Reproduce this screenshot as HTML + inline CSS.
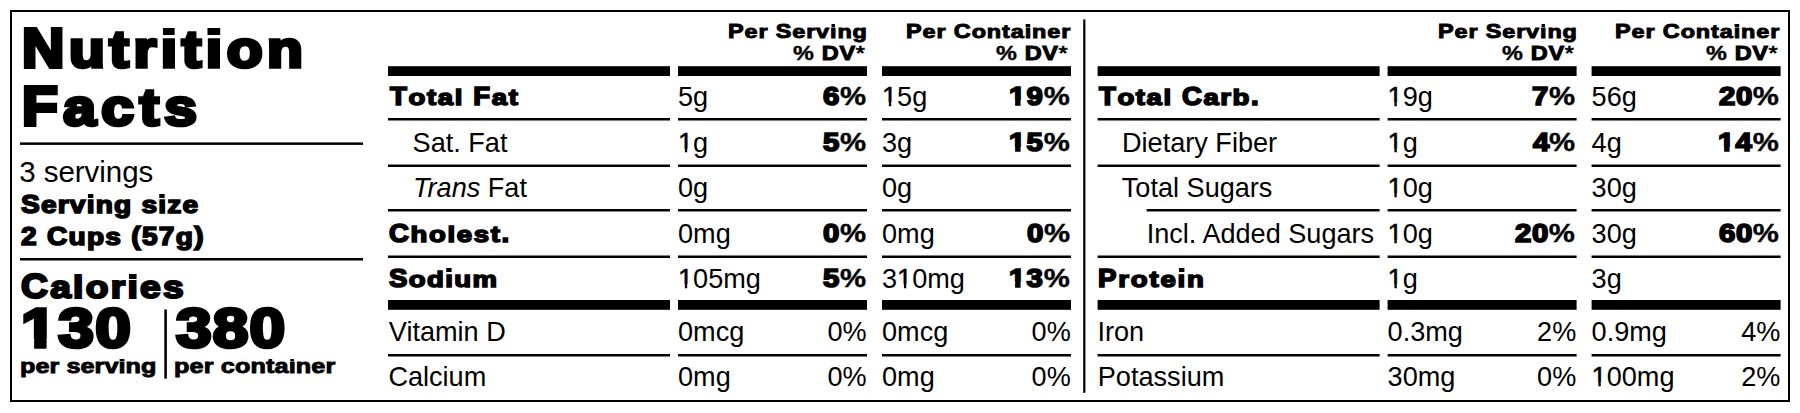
<!DOCTYPE html><html><head><meta charset="utf-8"><title>Nutrition Facts</title><style>
html,body{margin:0;padding:0;background:#fff}
body{width:1800px;height:413px;position:relative;overflow:hidden;font-family:"Liberation Sans",sans-serif;color:#000}
.t{position:absolute;white-space:pre;line-height:1}
.b{position:absolute;background:#000}
</style></head><body>
<svg style='position:absolute;left:0;top:0' width='1800' height='413' viewBox='0 0 1800 413'><rect x='10' y='10' width='1780' height='2'/><rect x='10' y='400' width='1780' height='2'/><rect x='10' y='10' width='2' height='392'/><rect x='1788' y='10' width='2' height='392'/><rect x='20' y='142.4' width='343' height='2.5'/><rect x='20' y='258' width='343' height='2.5'/><rect x='164.3' y='309.5' width='2.6' height='69.1'/><rect x='1083.2' y='19.4' width='2.2' height='373.4'/><rect x='388' y='66.2' width='282' height='9.8'/><rect x='388' y='300' width='282' height='9.8'/><rect x='388' y='118' width='282' height='2.5'/><rect x='388' y='164.5' width='282' height='2.5'/><rect x='388' y='209' width='282' height='2.5'/><rect x='388' y='255.5' width='282' height='2.5'/><rect x='388' y='354' width='282' height='2.5'/><rect x='678' y='66.2' width='189' height='9.8'/><rect x='678' y='300' width='189' height='9.8'/><rect x='678' y='118' width='189' height='2.5'/><rect x='678' y='164.5' width='189' height='2.5'/><rect x='678' y='209' width='189' height='2.5'/><rect x='678' y='255.5' width='189' height='2.5'/><rect x='678' y='354' width='189' height='2.5'/><rect x='882' y='66.2' width='189' height='9.8'/><rect x='882' y='300' width='189' height='9.8'/><rect x='882' y='118' width='189' height='2.5'/><rect x='882' y='164.5' width='189' height='2.5'/><rect x='882' y='209' width='189' height='2.5'/><rect x='882' y='255.5' width='189' height='2.5'/><rect x='882' y='354' width='189' height='2.5'/><rect x='1097.6' y='66.2' width='282.0' height='9.8'/><rect x='1097.6' y='300' width='282.0' height='9.8'/><rect x='1097.6' y='118' width='282.0' height='2.5'/><rect x='1097.6' y='164.5' width='282.0' height='2.5'/><rect x='1146.6' y='209' width='233.0' height='2.5'/><rect x='1097.6' y='255.5' width='282.0' height='2.5'/><rect x='1097.6' y='354' width='282.0' height='2.5'/><rect x='1387.6' y='66.2' width='189.0' height='9.8'/><rect x='1387.6' y='300' width='189.0' height='9.8'/><rect x='1387.6' y='118' width='189.0' height='2.5'/><rect x='1387.6' y='164.5' width='189.0' height='2.5'/><rect x='1387.6' y='209' width='189.0' height='2.5'/><rect x='1387.6' y='255.5' width='189.0' height='2.5'/><rect x='1387.6' y='354' width='189.0' height='2.5'/><rect x='1591.6' y='66.2' width='189.0' height='9.8'/><rect x='1591.6' y='300' width='189.0' height='9.8'/><rect x='1591.6' y='118' width='189.0' height='2.5'/><rect x='1591.6' y='164.5' width='189.0' height='2.5'/><rect x='1591.6' y='209' width='189.0' height='2.5'/><rect x='1591.6' y='255.5' width='189.0' height='2.5'/><rect x='1591.6' y='354' width='189.0' height='2.5'/></svg>
<div class='t' style='left:22.00px;top:21.25px;font-weight:700;font-size:55.4px;-webkit-text-stroke:3.9px #000;letter-spacing:4.281px;transform:scaleX(1.06);transform-origin:0 0;'>N<span style='display:inline-block;transform:scaleY(0.92);transform-origin:0 46.00px'>utr</span><span style='display:inline-block;position:relative'><span style='display:inline-block;transform:scaleY(0.92);transform-origin:0 46.00px'>ı</span><span style='position:absolute;left:1.92px;top:6.35px;width:11.50px;height:7.77px;background:#000'></span></span><span style='display:inline-block;transform:scaleY(0.92);transform-origin:0 46.00px'>t</span><span style='display:inline-block;position:relative'><span style='display:inline-block;transform:scaleY(0.92);transform-origin:0 46.00px'>ı</span><span style='position:absolute;left:1.92px;top:6.35px;width:11.50px;height:7.77px;background:#000'></span></span><span style='display:inline-block;transform:scaleY(0.92);transform-origin:0 46.00px'>on</span></div>
<div class='t' style='left:22.00px;top:79.35px;font-weight:700;font-size:55.4px;-webkit-text-stroke:3.9px #000;letter-spacing:5.094px;transform:scaleX(1.06);transform-origin:0 0;'>F<span style='display:inline-block;transform:scaleY(0.92);transform-origin:0 46.00px'>acts</span></div>
<div class='t' style='left:19.30px;top:156.60px;font-weight:400;font-size:29.5px;letter-spacing:-0.056px;'>3 servings</div>
<div class='t' style='left:20.60px;top:190.95px;font-weight:700;font-size:26.0px;-webkit-text-stroke:1.7px #000;letter-spacing:1.111px;transform:scaleX(1.08);transform-origin:0 0;'>S<span style='display:inline-block;transform:scaleY(0.9);transform-origin:0 22.00px'>erv</span><span style='display:inline-block;position:relative'><span style='display:inline-block;transform:scaleY(0.9);transform-origin:0 22.00px'>ı</span><span style='position:absolute;left:0.97px;top:3.46px;width:5.27px;height:3.95px;background:#000'></span></span><span style='display:inline-block;transform:scaleY(0.9);transform-origin:0 22.00px'>ng</span> <span style='display:inline-block;transform:scaleY(0.9);transform-origin:0 22.00px'>s</span><span style='display:inline-block;position:relative'><span style='display:inline-block;transform:scaleY(0.9);transform-origin:0 22.00px'>ı</span><span style='position:absolute;left:0.97px;top:3.46px;width:5.27px;height:3.95px;background:#000'></span></span><span style='display:inline-block;transform:scaleY(0.9);transform-origin:0 22.00px'>ze</span></div>
<div class='t' style='left:20.60px;top:222.65px;font-weight:700;font-size:26.0px;-webkit-text-stroke:1.7px #000;letter-spacing:1.178px;transform:scaleX(1.08);transform-origin:0 0;'>2 C<span style='display:inline-block;transform:scaleY(0.9);transform-origin:0 22.00px'>ups</span> (57<span style='display:inline-block;transform:scaleY(0.9);transform-origin:0 22.00px'>g</span>)</div>
<div class='t' style='left:21.00px;top:269.45px;font-weight:700;font-size:34.4px;-webkit-text-stroke:2.3px #000;letter-spacing:2.130px;transform:scaleX(1.08);transform-origin:0 0;'>C<span style='display:inline-block;transform:scaleY(0.9);transform-origin:0 29.00px'>alor</span><span style='display:inline-block;position:relative'><span style='display:inline-block;transform:scaleY(0.9);transform-origin:0 29.00px'>ı</span><span style='position:absolute;left:1.25px;top:4.44px;width:7.02px;height:5.22px;background:#000'></span></span><span style='display:inline-block;transform:scaleY(0.9);transform-origin:0 29.00px'>es</span></div>
<div class='t' style='left:21.20px;top:301.30px;font-weight:700;font-size:55.2px;-webkit-text-stroke:3.6px #000;letter-spacing:1.336px;transform:scaleX(1.16);transform-origin:0 0;'><span style='display:inline-block;clip-path:polygon(-20px -20px,calc(100% + 20px) -20px,calc(100% + 20px) 37.57px,21.96px 37.57px,21.96px calc(100% + 20px),11.38px calc(100% + 20px),11.38px 37.57px,-20px 37.57px)'>1</span>30</div>
<div class='t' style='left:175.80px;top:301.20px;font-weight:700;font-size:55.2px;-webkit-text-stroke:3.6px #000;letter-spacing:1.034px;transform:scaleX(1.16);transform-origin:0 0;'>380</div>
<div class='t' style='left:19.60px;top:355.25px;font-weight:700;font-size:21.0px;-webkit-text-stroke:0.9px #000;letter-spacing:0.042px;transform:scaleX(1.2);transform-origin:0 0;'>per serv<span style='display:inline-block;position:relative'><span style='display:inline-block;transform:scaleY(1);transform-origin:0 18.00px'>ı</span><span style='position:absolute;left:1.02px;top:3.26px;width:3.78px;height:2.05px;background:#000'></span></span>ng</div>
<div class='t' style='left:173.80px;top:355.25px;font-weight:700;font-size:21.0px;-webkit-text-stroke:0.9px #000;letter-spacing:0.111px;transform:scaleX(1.2);transform-origin:0 0;'>per conta<span style='display:inline-block;position:relative'><span style='display:inline-block;transform:scaleY(1);transform-origin:0 18.00px'>ı</span><span style='position:absolute;left:1.02px;top:3.26px;width:3.78px;height:2.05px;background:#000'></span></span>ner</div>
<div class='t' style='left:728.20px;top:21.30px;font-weight:700;font-size:20.4px;-webkit-text-stroke:1.0px #000;letter-spacing:0.739px;transform:scaleX(1.15);transform-origin:0 0;'>P<span style='display:inline-block;transform:scaleY(0.9);transform-origin:0 17.00px'>er</span> S<span style='display:inline-block;transform:scaleY(0.9);transform-origin:0 17.00px'>erv</span><span style='display:inline-block;position:relative'><span style='display:inline-block;transform:scaleY(0.9);transform-origin:0 17.00px'>ı</span><span style='position:absolute;left:0.92px;top:2.62px;width:3.80px;height:3.11px;background:#000'></span></span><span style='display:inline-block;transform:scaleY(0.9);transform-origin:0 17.00px'>ng</span></div>
<div class='t' style='left:792.60px;top:43.40px;font-weight:700;font-size:20.4px;-webkit-text-stroke:1.0px #000;letter-spacing:0.630px;transform:scaleX(1.15);transform-origin:0 0;'><span style='-webkit-text-stroke-width:0.4px'>%</span> DV<span style='font-weight:400;-webkit-text-stroke-width:0.7px'>*</span></div>
<div class='t' style='left:905.50px;top:21.30px;font-weight:700;font-size:20.4px;-webkit-text-stroke:1.0px #000;letter-spacing:0.761px;transform:scaleX(1.15);transform-origin:0 0;'>P<span style='display:inline-block;transform:scaleY(0.9);transform-origin:0 17.00px'>er</span> C<span style='display:inline-block;transform:scaleY(0.9);transform-origin:0 17.00px'>onta</span><span style='display:inline-block;position:relative'><span style='display:inline-block;transform:scaleY(0.9);transform-origin:0 17.00px'>ı</span><span style='position:absolute;left:0.92px;top:2.62px;width:3.80px;height:3.11px;background:#000'></span></span><span style='display:inline-block;transform:scaleY(0.9);transform-origin:0 17.00px'>ner</span></div>
<div class='t' style='left:996.40px;top:43.40px;font-weight:700;font-size:20.4px;-webkit-text-stroke:1.0px #000;letter-spacing:0.543px;transform:scaleX(1.15);transform-origin:0 0;'><span style='-webkit-text-stroke-width:0.4px'>%</span> DV<span style='font-weight:400;-webkit-text-stroke-width:0.7px'>*</span></div>
<div class='t' style='left:1437.80px;top:21.30px;font-weight:700;font-size:20.4px;-webkit-text-stroke:1.0px #000;letter-spacing:0.739px;transform:scaleX(1.15);transform-origin:0 0;'>P<span style='display:inline-block;transform:scaleY(0.9);transform-origin:0 17.00px'>er</span> S<span style='display:inline-block;transform:scaleY(0.9);transform-origin:0 17.00px'>erv</span><span style='display:inline-block;position:relative'><span style='display:inline-block;transform:scaleY(0.9);transform-origin:0 17.00px'>ı</span><span style='position:absolute;left:0.92px;top:2.62px;width:3.80px;height:3.11px;background:#000'></span></span><span style='display:inline-block;transform:scaleY(0.9);transform-origin:0 17.00px'>ng</span></div>
<div class='t' style='left:1502.20px;top:43.40px;font-weight:700;font-size:20.4px;-webkit-text-stroke:1.0px #000;letter-spacing:0.630px;transform:scaleX(1.15);transform-origin:0 0;'><span style='-webkit-text-stroke-width:0.4px'>%</span> DV<span style='font-weight:400;-webkit-text-stroke-width:0.7px'>*</span></div>
<div class='t' style='left:1615.10px;top:21.30px;font-weight:700;font-size:20.4px;-webkit-text-stroke:1.0px #000;letter-spacing:0.761px;transform:scaleX(1.15);transform-origin:0 0;'>P<span style='display:inline-block;transform:scaleY(0.9);transform-origin:0 17.00px'>er</span> C<span style='display:inline-block;transform:scaleY(0.9);transform-origin:0 17.00px'>onta</span><span style='display:inline-block;position:relative'><span style='display:inline-block;transform:scaleY(0.9);transform-origin:0 17.00px'>ı</span><span style='position:absolute;left:0.92px;top:2.62px;width:3.80px;height:3.11px;background:#000'></span></span><span style='display:inline-block;transform:scaleY(0.9);transform-origin:0 17.00px'>ner</span></div>
<div class='t' style='left:1706.00px;top:43.40px;font-weight:700;font-size:20.4px;-webkit-text-stroke:1.0px #000;letter-spacing:0.543px;transform:scaleX(1.15);transform-origin:0 0;'><span style='-webkit-text-stroke-width:0.4px'>%</span> DV<span style='font-weight:400;-webkit-text-stroke-width:0.7px'>*</span></div>
<div class='t' style='left:389.70px;top:83.75px;font-weight:700;font-size:25.5px;-webkit-text-stroke:1.7px #000;letter-spacing:1.528px;transform:scaleX(1.08);transform-origin:0 0;'>T<span style='display:inline-block;transform:scaleY(0.9);transform-origin:0 21.00px'>otal</span> F<span style='display:inline-block;transform:scaleY(0.9);transform-origin:0 21.00px'>at</span></div>
<div class='t' style='left:678.00px;top:82.60px;font-weight:400;font-size:27.1px;'>5g</div>
<div class='t' style='left:882.00px;top:82.60px;font-weight:400;font-size:27.1px;'><span style='display:inline-block;-webkit-text-stroke:0.5px #000;clip-path:polygon(-20px -20px,calc(100% + 20px) -20px,calc(100% + 20px) 19.73px,9.16px 19.73px,9.16px calc(100% + 20px),6.86px calc(100% + 20px),6.86px 19.73px,-20px 19.73px)'>1</span>5g</div>
<div class='t' style='left:822.50px;top:83.75px;font-weight:700;font-size:25.5px;-webkit-text-stroke:1.7px #000;letter-spacing:0.522px;transform:scaleX(1.15);transform-origin:0 0;'>6<span style='-webkit-text-stroke-width:0.4px'>%</span></div>
<div class='t' style='left:1008.60px;top:83.75px;font-weight:700;font-size:25.5px;-webkit-text-stroke:1.7px #000;letter-spacing:0.957px;transform:scaleX(1.15);transform-origin:0 0;'><span style='display:inline-block;clip-path:polygon(-20px -20px,calc(100% + 20px) -20px,calc(100% + 20px) 16.55px,10.00px 16.55px,10.00px calc(100% + 20px),5.40px calc(100% + 20px),5.40px 16.55px,-20px 16.55px)'>1</span>9<span style='-webkit-text-stroke-width:0.4px'>%</span></div>
<div class='t' style='left:412.60px;top:129.20px;font-weight:400;font-size:27.1px;'>Sat. Fat</div>
<div class='t' style='left:678.00px;top:129.20px;font-weight:400;font-size:27.1px;'><span style='display:inline-block;-webkit-text-stroke:0.5px #000;clip-path:polygon(-20px -20px,calc(100% + 20px) -20px,calc(100% + 20px) 19.73px,9.16px 19.73px,9.16px calc(100% + 20px),6.86px calc(100% + 20px),6.86px 19.73px,-20px 19.73px)'>1</span>g</div>
<div class='t' style='left:882.00px;top:129.20px;font-weight:400;font-size:27.1px;'>3g</div>
<div class='t' style='left:822.50px;top:130.35px;font-weight:700;font-size:25.5px;-webkit-text-stroke:1.7px #000;letter-spacing:0.522px;transform:scaleX(1.15);transform-origin:0 0;'>5<span style='-webkit-text-stroke-width:0.4px'>%</span></div>
<div class='t' style='left:1008.60px;top:130.35px;font-weight:700;font-size:25.5px;-webkit-text-stroke:1.7px #000;letter-spacing:0.957px;transform:scaleX(1.15);transform-origin:0 0;'><span style='display:inline-block;clip-path:polygon(-20px -20px,calc(100% + 20px) -20px,calc(100% + 20px) 16.55px,10.00px 16.55px,10.00px calc(100% + 20px),5.40px calc(100% + 20px),5.40px 16.55px,-20px 16.55px)'>1</span>5<span style='-webkit-text-stroke-width:0.4px'>%</span></div>
<div class='t' style='left:413.00px;top:173.80px;font-weight:400;font-size:27.1px;'><i>Trans</i> Fat</div>
<div class='t' style='left:678.00px;top:173.80px;font-weight:400;font-size:27.1px;'>0g</div>
<div class='t' style='left:882.00px;top:173.80px;font-weight:400;font-size:27.1px;'>0g</div>
<div class='t' style='left:389.10px;top:221.15px;font-weight:700;font-size:25.5px;-webkit-text-stroke:1.7px #000;letter-spacing:1.521px;transform:scaleX(1.08);transform-origin:0 0;'>C<span style='display:inline-block;transform:scaleY(0.9);transform-origin:0 21.00px'>holest</span>.</div>
<div class='t' style='left:678.00px;top:220.00px;font-weight:400;font-size:27.1px;'>0mg</div>
<div class='t' style='left:882.00px;top:220.00px;font-weight:400;font-size:27.1px;'>0mg</div>
<div class='t' style='left:822.50px;top:221.15px;font-weight:700;font-size:25.5px;-webkit-text-stroke:1.7px #000;letter-spacing:0.522px;transform:scaleX(1.15);transform-origin:0 0;'>0<span style='-webkit-text-stroke-width:0.4px'>%</span></div>
<div class='t' style='left:1026.60px;top:221.15px;font-weight:700;font-size:25.5px;-webkit-text-stroke:1.7px #000;letter-spacing:0.522px;transform:scaleX(1.15);transform-origin:0 0;'>0<span style='-webkit-text-stroke-width:0.4px'>%</span></div>
<div class='t' style='left:389.10px;top:265.65px;font-weight:700;font-size:25.5px;-webkit-text-stroke:1.7px #000;letter-spacing:1.315px;transform:scaleX(1.08);transform-origin:0 0;'>S<span style='display:inline-block;transform:scaleY(0.9);transform-origin:0 21.00px'>od</span><span style='display:inline-block;position:relative'><span style='display:inline-block;transform:scaleY(0.9);transform-origin:0 21.00px'>ı</span><span style='position:absolute;left:0.93px;top:2.80px;width:5.20px;height:3.87px;background:#000'></span></span><span style='display:inline-block;transform:scaleY(0.9);transform-origin:0 21.00px'>um</span></div>
<div class='t' style='left:678.00px;top:264.50px;font-weight:400;font-size:27.1px;'><span style='display:inline-block;-webkit-text-stroke:0.5px #000;clip-path:polygon(-20px -20px,calc(100% + 20px) -20px,calc(100% + 20px) 19.73px,9.16px 19.73px,9.16px calc(100% + 20px),6.86px calc(100% + 20px),6.86px 19.73px,-20px 19.73px)'>1</span>05mg</div>
<div class='t' style='left:882.00px;top:264.50px;font-weight:400;font-size:27.1px;'>3<span style='display:inline-block;-webkit-text-stroke:0.5px #000;clip-path:polygon(-20px -20px,calc(100% + 20px) -20px,calc(100% + 20px) 19.73px,9.16px 19.73px,9.16px calc(100% + 20px),6.86px calc(100% + 20px),6.86px 19.73px,-20px 19.73px)'>1</span>0mg</div>
<div class='t' style='left:822.50px;top:265.65px;font-weight:700;font-size:25.5px;-webkit-text-stroke:1.7px #000;letter-spacing:0.522px;transform:scaleX(1.15);transform-origin:0 0;'>5<span style='-webkit-text-stroke-width:0.4px'>%</span></div>
<div class='t' style='left:1008.60px;top:265.65px;font-weight:700;font-size:25.5px;-webkit-text-stroke:1.7px #000;letter-spacing:0.957px;transform:scaleX(1.15);transform-origin:0 0;'><span style='display:inline-block;clip-path:polygon(-20px -20px,calc(100% + 20px) -20px,calc(100% + 20px) 16.55px,10.00px 16.55px,10.00px calc(100% + 20px),5.40px calc(100% + 20px),5.40px 16.55px,-20px 16.55px)'>1</span>3<span style='-webkit-text-stroke-width:0.4px'>%</span></div>
<div class='t' style='left:388.80px;top:318.40px;font-weight:400;font-size:27.1px;'>Vitamin D</div>
<div class='t' style='left:678.00px;top:318.40px;font-weight:400;font-size:27.1px;'>0mcg</div>
<div class='t' style='left:882.00px;top:318.40px;font-weight:400;font-size:27.1px;'>0mcg</div>
<div class='t' style='left:827.50px;top:318.40px;font-weight:400;font-size:27.1px;'>0%</div>
<div class='t' style='left:1031.60px;top:318.40px;font-weight:400;font-size:27.1px;'>0%</div>
<div class='t' style='left:388.40px;top:362.50px;font-weight:400;font-size:27.1px;'>Calcium</div>
<div class='t' style='left:678.00px;top:362.50px;font-weight:400;font-size:27.1px;'>0mg</div>
<div class='t' style='left:882.00px;top:362.50px;font-weight:400;font-size:27.1px;'>0mg</div>
<div class='t' style='left:827.50px;top:362.50px;font-weight:400;font-size:27.1px;'>0%</div>
<div class='t' style='left:1031.60px;top:362.50px;font-weight:400;font-size:27.1px;'>0%</div>
<div class='t' style='left:1099.20px;top:83.75px;font-weight:700;font-size:25.5px;-webkit-text-stroke:1.7px #000;letter-spacing:1.463px;transform:scaleX(1.08);transform-origin:0 0;'>T<span style='display:inline-block;transform:scaleY(0.9);transform-origin:0 21.00px'>otal</span> C<span style='display:inline-block;transform:scaleY(0.9);transform-origin:0 21.00px'>arb</span>.</div>
<div class='t' style='left:1387.60px;top:82.60px;font-weight:400;font-size:27.1px;'><span style='display:inline-block;-webkit-text-stroke:0.5px #000;clip-path:polygon(-20px -20px,calc(100% + 20px) -20px,calc(100% + 20px) 19.73px,9.16px 19.73px,9.16px calc(100% + 20px),6.86px calc(100% + 20px),6.86px 19.73px,-20px 19.73px)'>1</span>9g</div>
<div class='t' style='left:1591.60px;top:82.60px;font-weight:400;font-size:27.1px;'>56g</div>
<div class='t' style='left:1532.10px;top:83.75px;font-weight:700;font-size:25.5px;-webkit-text-stroke:1.7px #000;letter-spacing:0.522px;transform:scaleX(1.15);transform-origin:0 0;'>7<span style='-webkit-text-stroke-width:0.4px'>%</span></div>
<div class='t' style='left:1719.20px;top:83.75px;font-weight:700;font-size:25.5px;-webkit-text-stroke:1.7px #000;letter-spacing:0.522px;transform:scaleX(1.15);transform-origin:0 0;'>20<span style='-webkit-text-stroke-width:0.4px'>%</span></div>
<div class='t' style='left:1122.00px;top:129.20px;font-weight:400;font-size:27.1px;'>Dietary Fiber</div>
<div class='t' style='left:1387.60px;top:129.20px;font-weight:400;font-size:27.1px;'><span style='display:inline-block;-webkit-text-stroke:0.5px #000;clip-path:polygon(-20px -20px,calc(100% + 20px) -20px,calc(100% + 20px) 19.73px,9.16px 19.73px,9.16px calc(100% + 20px),6.86px calc(100% + 20px),6.86px 19.73px,-20px 19.73px)'>1</span>g</div>
<div class='t' style='left:1591.60px;top:129.20px;font-weight:400;font-size:27.1px;'>4g</div>
<div class='t' style='left:1533.10px;top:130.35px;font-weight:700;font-size:25.5px;-webkit-text-stroke:1.7px #000;letter-spacing:-0.348px;transform:scaleX(1.15);transform-origin:0 0;'>4<span style='-webkit-text-stroke-width:0.4px'>%</span></div>
<div class='t' style='left:1718.20px;top:130.35px;font-weight:700;font-size:25.5px;-webkit-text-stroke:1.7px #000;letter-spacing:0.957px;transform:scaleX(1.15);transform-origin:0 0;'><span style='display:inline-block;clip-path:polygon(-20px -20px,calc(100% + 20px) -20px,calc(100% + 20px) 16.55px,10.00px 16.55px,10.00px calc(100% + 20px),5.40px calc(100% + 20px),5.40px 16.55px,-20px 16.55px)'>1</span>4<span style='-webkit-text-stroke-width:0.4px'>%</span></div>
<div class='t' style='left:1121.80px;top:173.80px;font-weight:400;font-size:27.1px;'>Total Sugars</div>
<div class='t' style='left:1387.60px;top:173.80px;font-weight:400;font-size:27.1px;'><span style='display:inline-block;-webkit-text-stroke:0.5px #000;clip-path:polygon(-20px -20px,calc(100% + 20px) -20px,calc(100% + 20px) 19.73px,9.16px 19.73px,9.16px calc(100% + 20px),6.86px calc(100% + 20px),6.86px 19.73px,-20px 19.73px)'>1</span>0g</div>
<div class='t' style='left:1591.60px;top:173.80px;font-weight:400;font-size:27.1px;'>30g</div>
<div class='t' style='left:1146.70px;top:220.00px;font-weight:400;font-size:27.1px;'>Incl. Added Sugars</div>
<div class='t' style='left:1387.60px;top:220.00px;font-weight:400;font-size:27.1px;'><span style='display:inline-block;-webkit-text-stroke:0.5px #000;clip-path:polygon(-20px -20px,calc(100% + 20px) -20px,calc(100% + 20px) 19.73px,9.16px 19.73px,9.16px calc(100% + 20px),6.86px calc(100% + 20px),6.86px 19.73px,-20px 19.73px)'>1</span>0g</div>
<div class='t' style='left:1591.60px;top:220.00px;font-weight:400;font-size:27.1px;'>30g</div>
<div class='t' style='left:1515.10px;top:221.15px;font-weight:700;font-size:25.5px;-webkit-text-stroke:1.7px #000;letter-spacing:0.522px;transform:scaleX(1.15);transform-origin:0 0;'>20<span style='-webkit-text-stroke-width:0.4px'>%</span></div>
<div class='t' style='left:1719.20px;top:221.15px;font-weight:700;font-size:25.5px;-webkit-text-stroke:1.7px #000;letter-spacing:0.522px;transform:scaleX(1.15);transform-origin:0 0;'>60<span style='-webkit-text-stroke-width:0.4px'>%</span></div>
<div class='t' style='left:1098.25px;top:265.65px;font-weight:700;font-size:25.5px;-webkit-text-stroke:1.7px #000;letter-spacing:1.698px;transform:scaleX(1.08);transform-origin:0 0;'>P<span style='display:inline-block;transform:scaleY(0.9);transform-origin:0 21.00px'>rote</span><span style='display:inline-block;position:relative'><span style='display:inline-block;transform:scaleY(0.9);transform-origin:0 21.00px'>ı</span><span style='position:absolute;left:0.93px;top:2.80px;width:5.20px;height:3.87px;background:#000'></span></span><span style='display:inline-block;transform:scaleY(0.9);transform-origin:0 21.00px'>n</span></div>
<div class='t' style='left:1387.60px;top:264.50px;font-weight:400;font-size:27.1px;'><span style='display:inline-block;-webkit-text-stroke:0.5px #000;clip-path:polygon(-20px -20px,calc(100% + 20px) -20px,calc(100% + 20px) 19.73px,9.16px 19.73px,9.16px calc(100% + 20px),6.86px calc(100% + 20px),6.86px 19.73px,-20px 19.73px)'>1</span>g</div>
<div class='t' style='left:1591.60px;top:264.50px;font-weight:400;font-size:27.1px;'>3g</div>
<div class='t' style='left:1097.40px;top:318.40px;font-weight:400;font-size:27.1px;'>Iron</div>
<div class='t' style='left:1387.60px;top:318.40px;font-weight:400;font-size:27.1px;'>0.3mg</div>
<div class='t' style='left:1591.60px;top:318.40px;font-weight:400;font-size:27.1px;'>0.9mg</div>
<div class='t' style='left:1537.10px;top:318.40px;font-weight:400;font-size:27.1px;'>2%</div>
<div class='t' style='left:1741.20px;top:318.40px;font-weight:400;font-size:27.1px;'>4%</div>
<div class='t' style='left:1097.80px;top:362.50px;font-weight:400;font-size:27.1px;'>Potassium</div>
<div class='t' style='left:1387.60px;top:362.50px;font-weight:400;font-size:27.1px;'>30mg</div>
<div class='t' style='left:1591.60px;top:362.50px;font-weight:400;font-size:27.1px;'><span style='display:inline-block;-webkit-text-stroke:0.5px #000;clip-path:polygon(-20px -20px,calc(100% + 20px) -20px,calc(100% + 20px) 19.73px,9.16px 19.73px,9.16px calc(100% + 20px),6.86px calc(100% + 20px),6.86px 19.73px,-20px 19.73px)'>1</span>00mg</div>
<div class='t' style='left:1537.10px;top:362.50px;font-weight:400;font-size:27.1px;'>0%</div>
<div class='t' style='left:1741.20px;top:362.50px;font-weight:400;font-size:27.1px;'>2%</div>
</body></html>
